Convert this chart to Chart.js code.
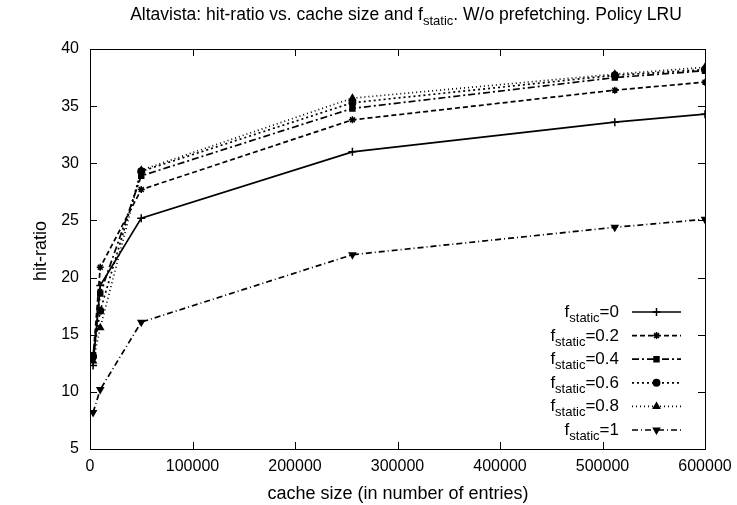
<!DOCTYPE html>
<html>
<head>
<meta charset="utf-8">
<script src="https://cdn.jsdelivr.net/npm/chart.js@4.4.1/dist/chart.umd.min.js"></script>
<style>
  body { margin: 0; background: #fff; }
  #wrap { width: 737px; height: 505px; }
</style>
</head>
<body>
<div id="wrap"><canvas id="hit" width="737" height="505"></canvas></div>
<script>
// cache sizes (x) and hit-ratio per f_static value
const cacheSizes = [3000, 10000, 50000, 256000, 512000, 600000];
const fLabels = ['0', '0.2', '0.4', '0.6', '0.8', '1'];
const hit0 = [12.3, 19.3, 25.2, 31.0, 33.6, 34.3];
const hit02 = [13.0, 20.9, 27.7, 33.8, 36.4, 37.1];
const hit04 = [13.2, 18.6, 28.9, 34.8, 37.5, 38.1];
const hit06 = [13.1, 17.1, 29.3, 35.3, 37.7, 38.2];
const hit08 = [12.7, 15.6, 29.4, 35.7, 37.8, 38.4];
const hit1 = [8.2, 10.2, 16.1, 22.0, 24.4, 25.1];
const xTicks = [0, 100000, 200000, 300000, 400000, 500000, 600000];
const yTicks = [5, 10, 15, 20, 25, 30, 35, 40];

const FONT = '"Liberation Sans", Arial, sans-serif';

function pts(ys) {
    return cacheSizes.map((x, i) => ({x: x, y: ys[i]}));
}

const styles = [
    {dash: [], point: 'cross', r: 4},
    {dash: [5, 3], point: 'star', r: 3.5},
    {dash: [7, 3, 2, 3], point: 'rect', r: 3.5},
    {dash: [2, 3], point: 'circle', r: 3.2},
    {dash: [1, 3], point: 'triangle', r: 3.5},
    {dash: [6, 3, 1, 3], point: 'triangle', r: 3.5, rot: 180},
];
const series = [hit0, hit02, hit04, hit06, hit08, hit1];

const datasets = series.map((s, i) => ({
    label: 'f_static=' + fLabels[i],
    data: pts(s),
    borderColor: '#000',
    backgroundColor: '#000',
    borderWidth: 1.7,
    borderDash: styles[i].dash,
    pointStyle: styles[i].point,
    pointRadius: styles[i].r,
    pointRotation: styles[i].rot || 0,
    pointBorderColor: '#000',
    pointBackgroundColor: '#000',
    pointBorderWidth: 1.5,
    tension: 0
}));

// draws title, axis titles, frame, inward ticks and the legend
const gnuplotLook = {
    id: 'gnuplotLook',
    afterDraw(chart) {
        const c = chart.ctx;
        const a = chart.chartArea;
        const sx = chart.scales.x, sy = chart.scales.y;
        c.save();
        c.fillStyle = '#000';
        c.strokeStyle = '#000';
        c.lineWidth = 1;
        c.setLineDash([]);

        // frame
        c.strokeRect(a.left + 0.5, a.top + 0.5, a.right - a.left, a.bottom - a.top);

        // ticks (inward, mirrored)
        c.beginPath();
        xTicks.forEach(v => {
            const px = Math.round(sx.getPixelForValue(v)) + 0.5;
            c.moveTo(px, a.bottom); c.lineTo(px, a.bottom - 7);
            c.moveTo(px, a.top); c.lineTo(px, a.top + 7);
        });
        yTicks.forEach(v => {
            const py = Math.round(sy.getPixelForValue(v)) + 0.5;
            c.moveTo(a.left, py); c.lineTo(a.left + 7, py);
            c.moveTo(a.right, py); c.lineTo(a.right - 7, py);
        });
        c.stroke();

        // title with subscript
        c.textBaseline = 'alphabetic';
        const tParts = [
            ['Altavista: hit-ratio vs. cache size and f', 17.5, 0],
            ['static', 13, 5],
            ['. W/o prefetching. Policy LRU', 17.5, 0]
        ];
        let tw = 0;
        tParts.forEach(p => { c.font = p[1] + 'px ' + FONT; tw += c.measureText(p[0]).width; });
        let tx = 406 - tw / 2;
        tParts.forEach(p => {
            c.font = p[1] + 'px ' + FONT;
            c.textAlign = 'left';
            c.fillText(p[0], tx, 20 + p[2]);
            tx += c.measureText(p[0]).width;
        });

        // axis titles
        c.font = '18px ' + FONT;
        c.textAlign = 'center';
        c.fillText('cache size (in number of entries)', 398, 499);
        c.save();
        c.translate(46, 251);
        c.rotate(-Math.PI / 2);
        c.fillText('hit-ratio', 0, 0);
        c.restore();

        // legend
        const rowY0 = 312, rowH = 23.6, textRight = 619, lx0 = 632, lx1 = 681;
        chart.data.datasets.forEach((ds, i) => {
            const y = rowY0 + i * rowH;
            const parts = [['f', 17, 0], ['static', 13, 5], ['=' + fLabels[i], 17, 0]];
            let w = 0;
            parts.forEach(p => { c.font = p[1] + 'px ' + FONT; w += c.measureText(p[0]).width; });
            let x = textRight - w;
            c.textAlign = 'left';
            parts.forEach(p => {
                c.font = p[1] + 'px ' + FONT;
                c.fillText(p[0], x, y + 5 + p[2]);
                x += c.measureText(p[0]).width;
            });
            c.lineWidth = ds.borderWidth;
            c.setLineDash(ds.borderDash);
            c.beginPath();
            c.moveTo(lx0, y); c.lineTo(lx1, y);
            c.stroke();
            c.setLineDash([]);
            c.lineWidth = ds.pointBorderWidth;
            Chart.helpers.drawPoint(c, {
                pointStyle: ds.pointStyle,
                radius: ds.pointRadius,
                rotation: ds.pointRotation,
                borderWidth: ds.pointBorderWidth
            }, (lx0 + lx1) / 2, y);
        });
        c.restore();
    }
};

const ctx = document.getElementById('hit');
const hitChart = new Chart(ctx, {
    type: 'line',
    data: { datasets: datasets },
    options: {
        responsive: false,
        animation: false,
        layout: {
            padding: { top: 49, right: 32, left: 0, bottom: 0 }
        },
        plugins: {
            legend: { display: false },
            tooltip: { enabled: false },
            title: { display: false }
        },
        scales: {
            x: {
                type: 'linear',
                min: 0,
                max: 600000,
                afterFit: s => { s.height = 56; },
                grid: { display: false },
                border: { display: false },
                ticks: {
                    stepSize: 100000,
                    maxRotation: 0,
                    color: '#000',
                    padding: 0,
                    font: { family: FONT, size: 16 },
                    callback: v => String(v)
                }
            },
            y: {
                min: 5,
                max: 40,
                afterFit: s => { s.width = 90; },
                grid: { display: false },
                border: { display: false },
                ticks: {
                    stepSize: 5,
                    color: '#000',
                    padding: 3,
                    font: { family: FONT, size: 16 }
                }
            }
        }
    },
    plugins: [gnuplotLook]
});
</script>
</body>
</html>
